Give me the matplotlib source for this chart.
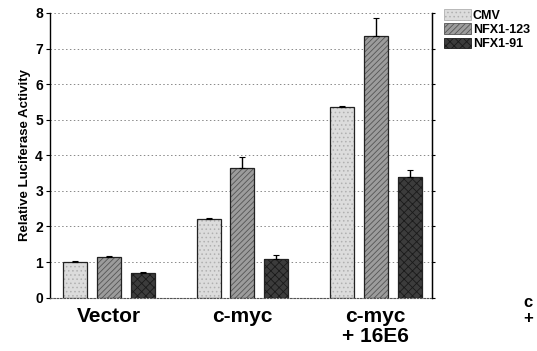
import matplotlib
matplotlib.use('Agg')
import matplotlib.pyplot as plt
from matplotlib.patches import Patch
import numpy as np

plt.rcParams['font.family'] = ['Liberation Sans', 'DejaVu Sans']
plt.rcParams['hatch.linewidth'] = 0.6

groups = ['Vector', 'c-myc', 'c-myc\n+ 16E6']
series = ['CMV', 'NFX1-123', 'NFX1-91']
cmv = [1.0, 2.2, 5.35]
nfx123 = [1.15, 3.65, 7.35]
nfx91 = [0.68, 1.1, 3.38]
cmv_err = [0.02, 0.05, 0.05]
nfx123_err = [0.03, 0.3, 0.5]
nfx91_err = [0.03, 0.1, 0.2]

colors = ['#dcdcdc', '#9c9c9c', '#3c3c3c']
hatches = ['....', '//////', 'xxxx']
hatch_cols = ['#b0b0b0', '#555555', '#1a1a1a']

fig = plt.figure(figsize=(5.37, 3.51), dpi=100)
ax = fig.add_axes([0.093, 0.152, 0.711, 0.811])

x = np.arange(len(groups))
width = 0.18
offsets = [-0.25, 0.0, 0.255]
for vals, errs, off, c, h, hc in zip([cmv, nfx123, nfx91],
                                     [cmv_err, nfx123_err, nfx91_err],
                                     offsets, colors, hatches, hatch_cols):
    ax.bar(x + off, vals, width, color=c, edgecolor=hc, hatch=h,
           linewidth=0, zorder=2)
    # outline drawn separately so hatch colour can differ
    ax.bar(x + off, vals, width, fill=False, edgecolor='#222222',
           linewidth=0.9, zorder=3)
    ax.errorbar(x + off, vals, yerr=[np.zeros(len(vals)), errs], fmt='none',
                ecolor='black', elinewidth=1.0, capsize=2.5, capthick=0.8,
                zorder=4)

ax.set_xlim(-0.44, 2.42)
ax.set_ylim(0, 8)
ax.set_yticks(range(9))
ax.set_yticklabels([str(i) for i in range(9)], fontsize=10, fontweight='bold')
ax.set_xticks(x)
ax.set_xticklabels(groups, fontsize=15, fontweight='bold', linespacing=1.05)
ax.tick_params(axis='x', length=0, pad=7)
ax.tick_params(axis='y', direction='out', length=3, width=0.8, pad=2)
ax.set_ylabel('Relative Luciferase Activity', fontsize=9.5, fontweight='bold',
              labelpad=3)

for yv in range(1, 9):
    ax.axhline(yv, color='#888888', linestyle=(0, (1.5, 2.5)), linewidth=0.7,
               zorder=1)

ax.spines['top'].set_visible(False)
ax.spines['bottom'].set_linestyle((0, (1.5, 1.5)))
ax.spines['bottom'].set_color('#555555')
ax.spines['left'].set_linewidth(1.0)
ax.spines['right'].set_linewidth(1.0)

# ticks along the right-hand axis line
ax2 = ax.twinx()
ax2.set_ylim(0, 8)
ax2.set_yticks(range(9))
ax2.set_yticklabels([])
ax2.tick_params(axis='y', direction='out', length=2.5, width=0.8)
for s in ['top', 'left', 'bottom']:
    ax2.spines[s].set_visible(False)

handles = [Patch(facecolor=c, edgecolor=hc, hatch=h, linewidth=0.6)
           for c, h, hc in zip(colors, hatches, hatch_cols)]
fig.legend(handles, series, loc='upper left',
           bbox_to_anchor=(0.812, 0.995), frameon=False,
           prop={'weight': 'bold', 'size': 9}, handlelength=2.2,
           handleheight=0.95, handletextpad=0.15, labelspacing=0.12,
           borderaxespad=0.2)

fig.text(0.975, 0.07, 'c\n+', fontsize=12, fontweight='bold',
         ha='left', va='bottom', linespacing=1.1)

fig.savefig('out.png', dpi=100)
